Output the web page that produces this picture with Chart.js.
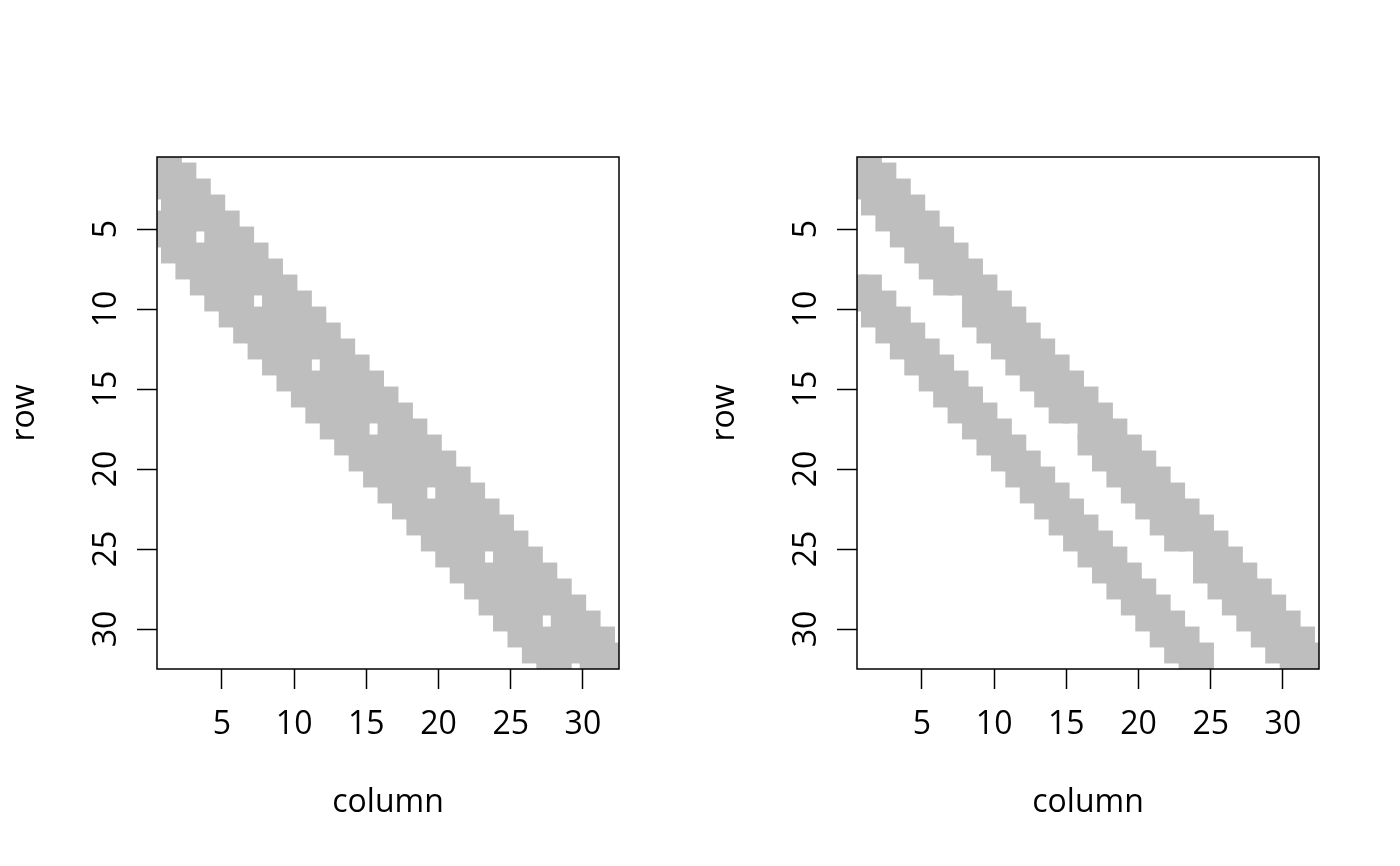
<!DOCTYPE html>
<html>
<head>
<meta charset="utf-8">
<title>row / column pattern</title>
<script src="https://cdn.jsdelivr.net/npm/chart.js@4.4.0/dist/chart.umd.min.js"></script>
<style>
  html, body { margin: 0; padding: 0; background: #fff; }
  #wrap { position: relative; width: 1400px; height: 866px; }
  canvas { position: absolute; top: 0; }
</style>
</head>
<body>
<div id="wrap">
  <canvas id="leftPlot" width="700" height="866" style="left:0"></canvas>
  <canvas id="rightPlot" width="700" height="866" style="left:700px"></canvas>
</div>
<script>
// ===== DATA (axis units) =====

const colTicks = [5, 10, 15, 20, 25, 30];
const rowTicks = [5, 10, 15, 20, 25, 30];

// row positions of the matrix (row 1 on top)
const rows = [0.5, 1.5, 2.5, 3.5, 4.5, 5.5, 6.5, 7.5, 8.5, 9.5, 10.5, 11.5, 12.5, 13.5, 14.5, 15.5,
    16.5, 17.5, 18.5, 19.5, 20.5, 21.5, 22.5, 23.5, 24.5, 25.5, 26.5, 27.5, 28.5, 29.5, 30.5, 31.5, 32.5];

// left panel: one wide band, first / last filled column per row, plus empty cells inside it
const bandFirst = [0.5, 0.5, 0.5, 0.5, 0.5, 0.5, 1.5, 2.5, 3.5, 4.5, 5.5, 6.5, 7.5, 8.5, 9.5, 10.5,
    11.5, 12.5, 13.5, 14.5, 15.5, 16.5, 17.5, 18.5, 19.5, 20.5, 21.5, 22.5, 23.5, 24.5, 25.5, 26.5, 27.5];
const bandLast = [1.5, 2.5, 3.5, 4.5, 5.5, 6.5, 7.5, 8.5, 9.5, 10.5, 11.5, 12.5, 13.5, 14.5, 15.5, 16.5,
    17.5, 18.5, 19.5, 20.5, 21.5, 22.5, 23.5, 24.5, 25.5, 26.5, 27.5, 28.5, 29.5, 30.5, 31.5, 32.5, 32.5];
const bandHoles = [[0.5, 3.5], [3.5, 5.5], [7.5, 9.5], [11.5, 13.5], [15.5, 17.5],
    [19.5, 21.5], [23.5, 25.5], [27.5, 29.5], [29.5, 32.5]];

// right panel: upper (diagonal) band
const upperFirst = [0.5, 0.5, 0.5, 1.5, 2.5, 3.5, 4.5, 5.5, 6.5, 7.5, 8.5, 9.5, 10.5, 11.5, 12.5, 13.5,
    14.5, 15.5, 16.5, 17.5, 18.5, 19.5, 20.5, 21.5, 22.5, 23.5, 24.5, 25.5, 26.5, 27.5, 28.5, 29.5, 30.5];
const upperLast = bandLast;
const upperHoles = [[7.5, 9.5], [15.5, 17.5], [23.5, 25.5]];

// right panel: lower (off-diagonal) band, starts at row 8.5
const lowerRows = [8.5, 9.5, 10.5, 11.5, 12.5, 13.5, 14.5, 15.5, 16.5, 17.5, 18.5, 19.5, 20.5,
    21.5, 22.5, 23.5, 24.5, 25.5, 26.5, 27.5, 28.5, 29.5, 30.5, 31.5, 32.5];
const lowerFirst = [0.5, 0.5, 1.5, 2.5, 3.5, 4.5, 5.5, 6.5, 7.5, 8.5, 9.5, 10.5, 11.5,
    12.5, 13.5, 14.5, 15.5, 16.5, 17.5, 18.5, 19.5, 20.5, 21.5, 22.5, 23.5];
const lowerLast = [1.5, 2.5, 3.5, 4.5, 5.5, 6.5, 7.5, 8.5, 9.5, 10.5, 11.5, 12.5, 13.5,
    14.5, 15.5, 16.5, 17.5, 18.5, 19.5, 20.5, 21.5, 22.5, 23.5, 24.5, 24.5];
const lowerHoles = [];

// ===== HELPERS =====

const FONT = { family: "'Open Sans', sans-serif", size: 32 };
const GREY = '#BEBEBE';

// list the filled cells of a band as {x, y} points
function bandCells(rowList, first, last, holes) {
    const pts = [];
    rowList.forEach((y, k) => {
        for (let x = first[k]; x <= last[k]; x++) {
            if (!holes.some(h => h[0] === x && h[1] === y)) pts.push({ x: x, y: y });
        }
    });
    return pts;
}

// black frame around the plot region, like R's box()
const boxPlugin = {
    id: 'box',
    afterDatasetsDraw(chart) {
        const a = chart.chartArea;
        const ctx = chart.ctx;
        ctx.save();
        ctx.strokeStyle = '#000';
        ctx.lineWidth = 1.5;
        ctx.strokeRect(a.left, a.top, a.right - a.left, a.bottom - a.top);
        ctx.restore();
    }
};

function tickGrid() {
    return { drawOnChartArea: false, drawTicks: true, tickLength: 20, tickWidth: 1.5, tickColor: '#000' };
}

function makePlot(canvasId, datasets) {
    return new Chart(document.getElementById(canvasId), {
        type: 'scatter',
        data: { datasets: datasets },
        options: {
            responsive: false,
            animation: false,
            events: [],
            devicePixelRatio: 1,
            layout: { padding: { top: 157, right: 81, left: 0, bottom: 0 } },
            plugins: { legend: { display: false }, tooltip: { enabled: false } },
            scales: {
                x: {
                    type: 'linear', min: 0.5, max: 32.5,
                    afterBuildTicks: s => { s.ticks = colTicks.map(v => ({ value: v })); },
                    afterFit: s => { s.height = 197; },
                    grid: tickGrid(),
                    border: { display: false },
                    ticks: { color: '#000', font: FONT, padding: 17, maxRotation: 0, autoSkip: false },
                    title: { display: true, text: 'column', color: '#000', font: FONT, padding: { top: 0, bottom: 44 } }
                },
                y: {
                    type: 'linear', min: 0.5, max: 32.5, reverse: true,
                    afterBuildTicks: s => { s.ticks = rowTicks.map(v => ({ value: v })); },
                    afterFit: s => { s.width = 157; },
                    grid: tickGrid(),
                    border: { display: false },
                    ticks: { color: '#000', font: FONT, padding: 12, minRotation: 90, maxRotation: 90,
                        crossAlign: 'center', autoSkip: false },
                    title: { display: true, text: 'row', color: '#000', font: FONT, padding: { top: 6, bottom: 0 } }
                }
            }
        },
        plugins: [boxPlugin]
    });
}

function cellSet(points) {
    return {
        data: points,
        pointStyle: 'rect',
        pointRadius: 14.8,
        pointHoverRadius: 14.8,
        pointBorderWidth: 0,
        backgroundColor: GREY,
        borderColor: GREY,
        clip: 0
    };
}

makePlot('leftPlot', [cellSet(bandCells(rows, bandFirst, bandLast, bandHoles))]);
makePlot('rightPlot', [
    cellSet(bandCells(rows, upperFirst, upperLast, upperHoles)),
    cellSet(bandCells(lowerRows, lowerFirst, lowerLast, lowerHoles))
]);
</script>
</body>
</html>
